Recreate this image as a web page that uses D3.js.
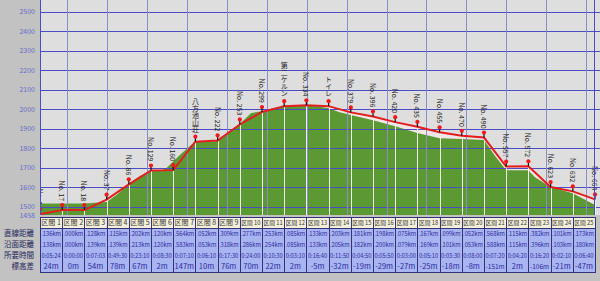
<!DOCTYPE html>
<html>
<head>
<meta charset="utf-8">
<script src="https://cdn.jsdelivr.net/npm/d3@7/dist/d3.min.js"></script>
<style>
  body { margin: 0; background: #c2c2c2; }
  svg { display: block; font-family: "Noto Sans CJK JP", sans-serif; }
</style>
</head>
<body>
<svg id="chart" width="600" height="281"></svg>
<script>
// way points along the route
const pointNames = ['No. 1', 'No. 17', 'No. 18', 'No. 37', 'No. 86', 'No. 129', 'No. 160', '八方池山荘',
  'No. 222', 'No. 253', 'No. 299', '第二ケルン', 'No. 334', 'トイレ', 'No. 379', 'No. 396', 'No. 420',
  'No. 435', 'No. 455', 'No. 470', 'No. 490', 'No. 557', 'No. 572', 'No. 623', 'No. 632', 'No. 664']
const pointElev = [1462, 1483, 1483, 1537, 1615, 1686, 1688, 1834, 1840, 1922, 1986, 2016, 2020,
  2016, 1984, 1963, 1934, 1910, 1882, 1864, 1855, 1706, 1708, 1601, 1579, 1538]

// terrain profile (position in sections, elevation)
const terrainPos = [0, 1, 2, 3, 3.5, 4, 4.5, 5, 5.5, 5.7, 6.3, 7, 7.5, 8, 8.5, 9, 9.5, 10, 10.5, 11,
  11.7, 12.5, 13, 13.5, 14, 15, 16, 17, 18, 19, 20, 20.5, 21, 22, 22.3, 23, 24, 25]
const terrainElev = [1517, 1517, 1517, 1525, 1565, 1617, 1658, 1683, 1688, 1699, 1765, 1837, 1834,
  1837, 1883, 1924, 1980, 1990, 2005, 2016, 2021, 2016, 2005, 1985, 1970, 1944, 1913, 1878, 1852,
  1847, 1842, 1760, 1688, 1688, 1652, 1601, 1570, 1509]

const yTicks = [1500, 1600, 1700, 1800, 1900, 2000, 2100, 2200, 2300, 2400, 2500]
const yMinLabel = 1458

// section table
const rowLabels = ['直線距離', '沿面距離', '所要時間', '標高差']
const straightKm = ['.136', '.000', '.128', '.115', '.202', '.120', '.564', '.052', '.309', '.277', '.253',
  '.085', '.133', '.203', '.181', '.198', '.075', '.167', '.099', '.052', '.568', '.115', '.382', '.101', '.173']
const surfaceKm = ['.138', '.000', '.139', '.139', '.213', '.120', '.583', '.053', '.318', '.286', '.254',
  '.085', '.133', '.205', '.182', '.200', '.079', '.169', '.101', '.053', '.588', '.115', '.396', '.103', '.180']
const travelTime = ['0:05:24', '0:00:00', '0:07:03', '0:49:30', '0:23:10', '0:08:30', '0:07:10', '0:06:10',
  '0:17:30', '0:24:00', '0:10:30', '0:03:10', '0:16:40', '0:11:50', '0:04:50', '0:05:50', '0:03:00',
  '0:05:10', '0:03:30', '0:08:00', '0:07:20', '0:04:20', '0:16:20', '0:02:10', '0:06:40']
const elevDiff = [24, 0, 54, 78, 67, 2, 147, 10, 76, 70, 22, 2, -5, -32, -19, -29, -27, -25, -18, -8,
  -151, 2, -106, -21, -47]

const svg = d3.select('#chart')
const W = 600
const plotLeft = 40
const plotRight = 595
const plotBottom = 215

const x = d3.scaleLinear().domain([0, pointNames.length - 1]).range([plotLeft, plotRight])
const y = d3.scaleLinear().domain([yMinLabel, 2560]).range([plotBottom, 0])
const gridX = d3.scaleLinear().domain([0, 13]).range([67.3, 586])
const col = d3.scaleBand().domain(d3.range(straightKm.length)).range([plotLeft, plotRight])

// shrink a text until it fits in its cell
const fit = function (maxW) {
  return function () {
    const sel = d3.select(this)
    let size = +sel.attr('font-size')
    while (this.getComputedTextLength() > maxW && size > 4) {
      size -= 0.25
      sel.attr('font-size', size)
    }
  }
}

svg.append('defs').append('clipPath').attr('id', 'plotClip')
  .append('rect').attr('x', plotLeft).attr('y', 0).attr('width', W - plotLeft).attr('height', plotBottom)

// plot background
svg.append('rect')
  .attr('x', plotLeft).attr('y', 0)
  .attr('width', W - plotLeft).attr('height', plotBottom)
  .attr('fill', '#dedede')

const plot = svg.append('g').attr('clip-path', 'url(#plotClip)')

// pale area under the route line
plot.append('path')
  .datum(pointElev)
  .attr('fill', '#f1e6e6')
  .attr('d', d3.area().x((d, i) => x(i)).y0(plotBottom).y1(d => y(d)))

// terrain
const terrain = terrainPos.map((p, i) => ({ pos: p, elev: terrainElev[i] }))
plot.append('path')
  .datum(terrain)
  .attr('fill', '#5b9a32')
  .attr('d', d3.area().x(d => x(d.pos)).y0(plotBottom).y1(d => y(d.elev)))

// grid
plot.selectAll('line.hgrid')
  .data(yTicks)
  .enter()
  .append('line')
  .attr('x1', plotLeft).attr('x2', W)
  .attr('y1', d => Math.round(y(d)) + 0.5).attr('y2', d => Math.round(y(d)) + 0.5)
  .attr('stroke', '#4c4cc4')

plot.selectAll('line.vgrid')
  .data(d3.range(14))
  .enter()
  .append('line')
  .attr('x1', d => Math.round(gridX(d)) + 0.5).attr('x2', d => Math.round(gridX(d)) + 0.5)
  .attr('y1', 0).attr('y2', plotBottom)
  .attr('stroke', '#8c8cc8')

// drop lines from each way point
plot.selectAll('line.drop')
  .data(pointElev)
  .enter()
  .append('line')
  .attr('x1', (d, i) => Math.round(x(i)) + 0.5).attr('x2', (d, i) => Math.round(x(i)) + 0.5)
  .attr('y1', d => y(d)).attr('y2', plotBottom)
  .attr('stroke', '#eef0ee')

// axis lines
svg.append('line')
  .attr('x1', plotLeft + 0.5).attr('x2', plotLeft + 0.5).attr('y1', 0).attr('y2', plotBottom)
  .attr('stroke', '#4c4cc4')
svg.append('line')
  .attr('x1', plotRight - 0.5).attr('x2', plotRight - 0.5).attr('y1', 0).attr('y2', plotBottom)
  .attr('stroke', '#4c4cc4')

// route line
plot.append('path')
  .datum(pointElev)
  .attr('fill', 'none')
  .attr('stroke', '#e41e1e')
  .attr('stroke-width', 2)
  .attr('d', d3.line().x((d, i) => x(i)).y(d => y(d)))

// pins
const pins = plot.selectAll('g.pin')
  .data(pointElev)
  .enter()
  .append('g')
  .attr('transform', (d, i) => 'translate(' + x(i) + ',' + y(d) + ')')
pins.append('line')
  .attr('x1', 0).attr('x2', 0).attr('y1', 0).attr('y2', -5)
  .attr('stroke', '#111').attr('stroke-width', 1.2)
pins.append('circle')
  .attr('cy', -5).attr('r', 2.1)
  .attr('fill', '#f01818')

// vertical labels
plot.selectAll('text.name')
  .data(pointNames)
  .enter()
  .append('text')
  .attr('x', (d, i) => x(i))
  .attr('y', (d, i) => y(pointElev[i]) - 9)
  .attr('text-anchor', 'end')
  .style('writing-mode', 'vertical-rl')
  .attr('font-size', 7)
  .attr('fill', '#222')
  .text(d => d)

// y axis labels
svg.selectAll('text.ylab')
  .data(yTicks.concat([yMinLabel]))
  .enter()
  .append('text')
  .attr('x', 35)
  .attr('y', d => d === yMinLabel ? y(d) + 1 : y(d))
  .attr('dy', '0.35em')
  .attr('text-anchor', 'end')
  .attr('font-size', 7)
  .attr('fill', '#6a6ac8')
  .text(d => d)

// table
const headTop = 217
const headH = 11
const rowH = 11
const rows = [
  straightKm.map(d => d + 'km'),
  surfaceKm.map(d => d + 'km'),
  travelTime,
  elevDiff.map(d => d + 'm')
]

const cols = svg.selectAll('g.col')
  .data(d3.range(straightKm.length))
  .enter()
  .append('g')

cols.append('rect')
  .attr('x', d => col(d)).attr('y', headTop)
  .attr('width', col.bandwidth()).attr('height', headH)
  .attr('fill', '#f3efd9')
cols.append('rect')
  .attr('x', d => col(d)).attr('y', headTop + headH)
  .attr('width', col.bandwidth()).attr('height', rowH * 4)
  .attr('fill', '#a9b5f2')

cols.append('text')
  .attr('x', d => col(d) + col.bandwidth() / 2)
  .attr('y', headTop + headH / 2)
  .attr('dy', '0.35em')
  .attr('text-anchor', 'middle')
  .attr('font-size', 7.5)
  .attr('fill', '#333')
  .text(d => '区間 ' + (d + 1))
  .each(fit(col.bandwidth() - 2.5))

rows.forEach(function (vals, r) {
  cols.append('text')
    .attr('x', d => col(d) + col.bandwidth() / 2)
    .attr('y', headTop + headH + rowH * r + rowH / 2)
    .attr('dy', '0.35em')
    .attr('text-anchor', 'middle')
    .attr('font-size', 7.5)
    .attr('fill', '#2a2a9a')
    .text(d => vals[d])
    .each(fit(col.bandwidth() - 2.5))
})

svg.selectAll('line.colsep')
  .data(d3.range(straightKm.length + 1))
  .enter()
  .append('line')
  .attr('x1', d => Math.round(plotLeft + d * col.step()) + 0.5)
  .attr('x2', d => Math.round(plotLeft + d * col.step()) + 0.5)
  .attr('y1', headTop).attr('y2', headTop + headH + rowH * 4)
  .attr('stroke', '#34347a')
svg.selectAll('line.rowsep')
  .data([headTop, headTop + headH, headTop + headH + rowH * 4])
  .enter()
  .append('line')
  .attr('x1', plotLeft).attr('x2', plotRight + 1)
  .attr('y1', d => d + 0.5).attr('y2', d => d + 0.5)
  .attr('stroke', '#34347a')

svg.selectAll('text.rowlab')
  .data(rowLabels)
  .enter()
  .append('text')
  .attr('x', 34)
  .attr('y', (d, i) => headTop + headH + rowH * i + rowH / 2)
  .attr('dy', '0.35em')
  .attr('text-anchor', 'end')
  .attr('font-size', 7.5)
  .attr('fill', '#22225a')
  .text(d => d)
</script>
</body>
</html>
